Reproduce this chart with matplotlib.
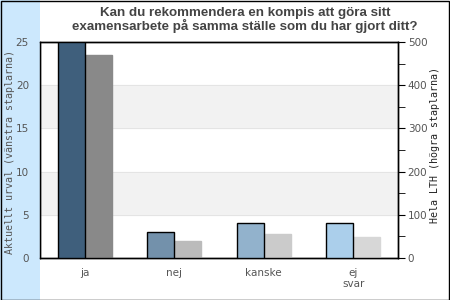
import matplotlib
matplotlib.use("Agg")
import matplotlib.pyplot as plt
import numpy as np

categories = ["ja", "nej", "kanske", "ej\nsvar"]
urval = [25, 3, 4, 4]
hela_lth = [470, 40, 55, 48]
urval_colors = ["#3f5f7c", "#7391ab", "#92b2cc", "#abcfeb"]
lth_colors = ["#898989", "#bbbbbb", "#cbcbcb", "#d7d7d7"]

fig = plt.figure(figsize=(4.5, 3.0), dpi=100)
fig.patch.set_facecolor("white")
fig.patches.append(plt.Rectangle((0, 0), 40/450, 1, transform=fig.transFigure,
                                 facecolor="#cce8fd", edgecolor="none", zorder=0))
fig.patches.append(plt.Rectangle((0.5/450, 0.5/300), 448.5/450, 298.5/300, transform=fig.transFigure,
                                 facecolor="none", edgecolor="black", linewidth=1, zorder=10))

ax = fig.add_axes([40/450, (300-258)/300, 358/450, 216/300])
ax2 = ax.twinx()
x = np.arange(len(categories))
w = 0.3
ax.set_ylim(0, 25)
ax2.set_ylim(0, 500)
ax.set_xlim(-0.5, 3.5)
for lo in (100, 300):
    ax2.axhspan(lo, lo + 100, color="#f2f2f2", zorder=0)
for y in (100, 200, 300, 400):
    ax2.axhline(y, color="#e2e2e2", linewidth=0.6, zorder=0.5)
ax2.bar(x + w/2, hela_lth, width=w, color=lth_colors, edgecolor=lth_colors, linewidth=1, zorder=3)
ax.bar(x - w/2, urval, width=w, color=urval_colors, edgecolor="black", linewidth=1, zorder=3)
ax.set_zorder(ax2.get_zorder() + 1)
ax.patch.set_visible(False)

ax.set_xticks(x)
ax.set_xticklabels(categories, fontsize=7.5, color="#555555")
ax.tick_params(axis="x", length=0, pad=7)
ax.set_yticks([0, 5, 10, 15, 20, 25])
ax.tick_params(axis="y", length=0, labelsize=7.5, labelcolor="#555555", pad=8)
ax2.set_yticks([0, 100, 200, 300, 400, 500])
ax2.set_yticks(np.arange(0, 501, 50), minor=True)
ax2.tick_params(axis="y", which="both", direction="out", length=5, labelsize=7.5,
                labelcolor="#555555", pad=2)
for a in (ax, ax2):
    for s in a.spines.values():
        s.set_color("black")
        s.set_linewidth(1)

fig.text(10/450, 1 - 152/300, "Aktuellt urval (vänstra staplarna)", family="DejaVu Sans Mono",
         fontsize=7.2, color="#555555", rotation=90, ha="center", va="center")
fig.text(435.5/450, 1 - 145/300, "Hela LTH (högra staplarna)", family="DejaVu Sans Mono",
         fontsize=7.2, color="#222222", rotation=90, ha="center", va="center")
fig.text(0.5 + 20/450, 1 - 20/300, "Kan du rekommendera en kompis att göra sitt\nexamensarbete på samma ställe som du har gjort ditt?",
         ha="center", va="center", fontsize=9.6, fontweight="bold", color="#444444",
         family="Liberation Sans", linespacing=1.0)
fig.savefig("out.png", dpi=100)
